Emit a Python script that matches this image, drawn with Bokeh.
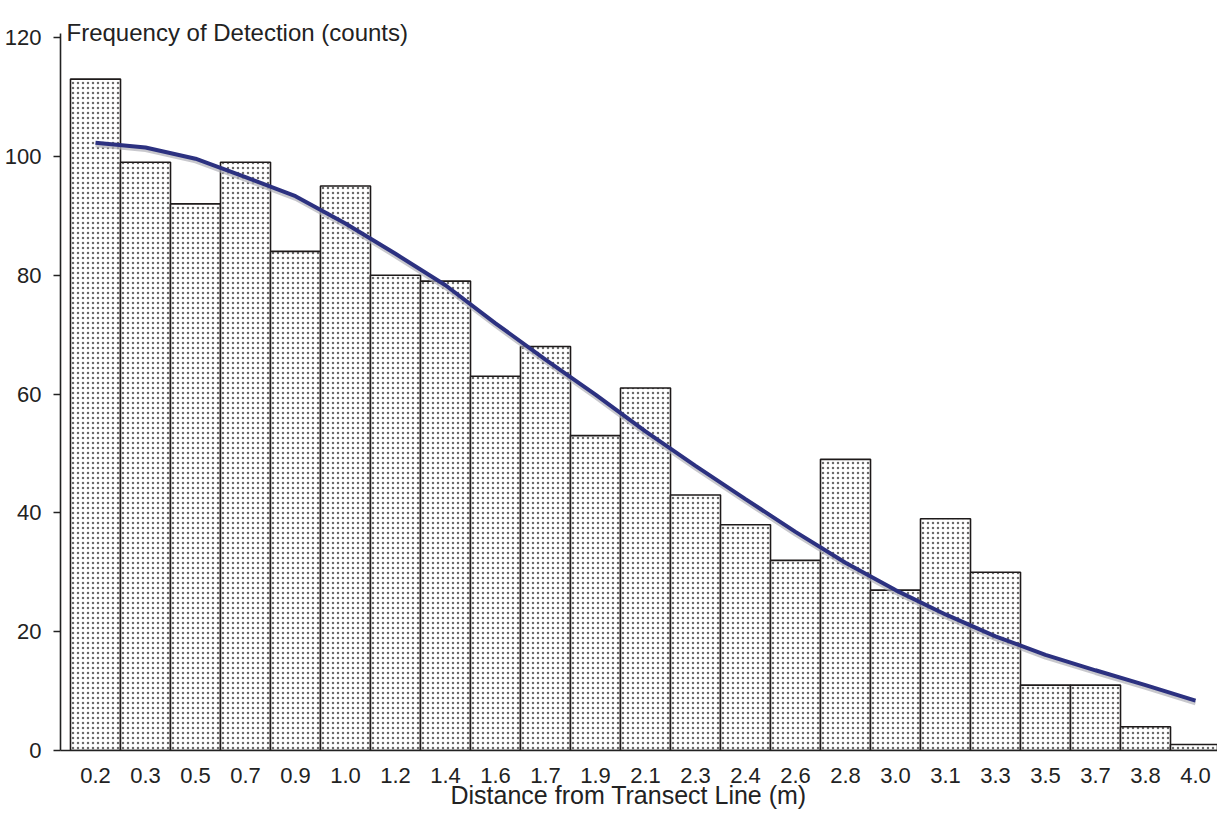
from bokeh.plotting import figure
from bokeh.models import FixedTicker, Range1d, Label, ColumnDataSource, Title
from bokeh.transform import dodge
from bokeh.embed import file_html
from bokeh.resources import INLINE

# ---- data ----
distance_labels = ["0.2", "0.3", "0.5", "0.7", "0.9", "1.0", "1.2", "1.4", "1.6", "1.7",
                   "1.9", "2.1", "2.3", "2.4", "2.6", "2.8", "3.0", "3.1", "3.3", "3.5",
                   "3.7", "3.8", "4.0"]
counts = [113, 99, 92, 99, 84, 95, 80, 79, 63, 68, 53, 61, 43, 38, 32, 49, 27, 39, 30,
          11, 11, 4, 1]
fitted = [102.3, 101.5, 99.6, 96.5, 93.3, 88.7, 83.6, 78.3, 71.9, 65.8, 59.9, 53.7, 47.9,
          42.3, 36.8, 31.6, 27.0, 22.9, 19.2, 16.1, 13.5, 11.0, 8.4]
y_ticks = [0, 20, 40, 60, 80, 100, 120]

positions = list(range(len(distance_labels)))
src = ColumnDataSource(dict(x=positions, counts=counts, fitted=fitted))

FONT = "Liberation Sans"
TXT = "#222222"

p = figure(width=1217, height=822, output_backend="svg", toolbar_location=None,
           x_range=Range1d(-0.7, 22.44), y_range=Range1d(0, 126.23),
           min_border_left=60, min_border_right=0, min_border_top=0, min_border_bottom=72)
p.background_fill_color = "white"
p.border_fill_color = "white"
p.outline_line_color = None
p.xgrid.visible = False
p.ygrid.visible = False

p.vbar(x="x", top="counts", width=1.0, source=src,
       fill_color="white", line_color="#1e1a1a", line_width=1.6,
       hatch_pattern="dot", hatch_color="#6a6a6a", hatch_scale=5, hatch_weight=0.9)

# soft shadow under the curve, then the curve itself
p.line(x="x", y=dodge("fitted", -0.45), source=src, line_color="#b0b0b8",
       line_width=4, line_alpha=0.7)
p.line(x="x", y="fitted", source=src, line_color="#2c3180", line_width=4)

# y axis
ya = p.yaxis[0]
ya.ticker = FixedTicker(ticks=y_ticks)
ya.bounds = (0, 120.67)
ya.major_tick_out = 7
ya.major_tick_in = 0
ya.minor_tick_line_color = None
ya.axis_line_color = "#222222"
ya.axis_line_width = 1.6
ya.major_tick_line_color = "#222222"
ya.major_tick_line_width = 1.6
ya.major_label_standoff = 12
ya.major_label_text_font = FONT
ya.major_label_text_font_size = "22px"
ya.major_label_text_color = TXT

# x axis
xa = p.xaxis[0]
xa.ticker = FixedTicker(ticks=positions)
xa.major_label_overrides = {i: lab for i, lab in enumerate(distance_labels)}
xa.major_tick_out = 0
xa.major_tick_in = 0
xa.minor_tick_line_color = None
xa.axis_line_color = "#222222"
xa.axis_line_width = 1.6
xa.major_label_standoff = 17
xa.major_label_text_font = FONT
xa.major_label_text_font_size = "22px"
xa.major_label_text_color = TXT

# y-axis caption (inside the frame, top-left)
p.add_layout(Label(x=6, y=718, x_units="screen", y_units="screen",
                   text="Frequency of Detection (counts)", text_font=FONT,
                   text_font_size="24px", text_color=TXT, text_baseline="alphabetic"))

# x-axis caption
xt = Title(text="Distance from Transect Line (m)", align="left", offset=390,
           standoff=-14, text_font=FONT, text_font_size="25px",
           text_font_style="normal", text_color=TXT)
p.add_layout(xt, "below")

open("out.html", "w").write(file_html(p, INLINE))
